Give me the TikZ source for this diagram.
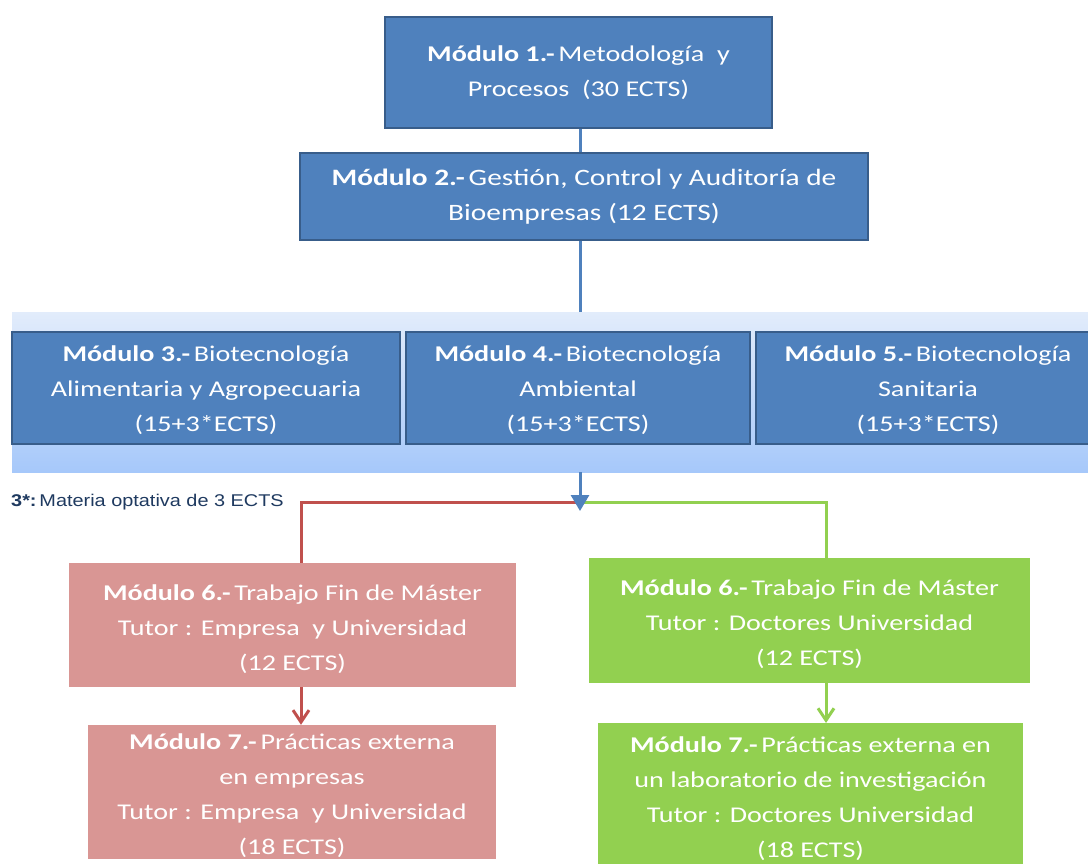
\documentclass[tikz,border=0pt]{standalone}
\usepackage{fontspec}
\setmainfont{Carlito}[FakeStretch=1.25]
\newfontfamily\notefont{Liberation Sans}[FakeStretch=1.17]
\usetikzlibrary{arrows.meta,calc}
\definecolor{bfill}{HTML}{4F81BD}
\definecolor{bdraw}{HTML}{385D8A}
\definecolor{rfill}{HTML}{D99694}
\definecolor{rline}{HTML}{C0504D}
\definecolor{gfill}{HTML}{92D050}
\definecolor{bandtop}{HTML}{E2ECFB}
\definecolor{bandbot}{HTML}{A6C8FA}
\definecolor{notecol}{HTML}{1F3A60}
\newcommand{\topstrut}[1]{\rule{0pt}{#1}}
\tikzset{
  modbox/.style={align=center, text=white, font=\fontsize{22.5}{35}\selectfont, inner sep=0pt},
  bluebox/.style={modbox, fill=bfill, draw=bdraw, line width=2.5pt},
  redbox/.style={modbox, fill=rfill},
  greenbox/.style={modbox, fill=gfill},
  blueline/.style={draw=bfill, line width=3pt},
  redconn/.style={draw=rline, line width=3pt},
  greenconn/.style={draw=gfill, line width=3pt},
}
\begin{document}
\begin{tikzpicture}[x=1pt,y=-1pt]
\useasboundingbox (0,0) rectangle (1088,864);
\clip (0,0) rectangle (1088,864);
\fill[white] (0,0) rectangle (1088,864);
% band
\node[inner sep=0pt, minimum width=1090pt, minimum height=160pt, top color=bandtop, bottom color=bandbot] (band) at (557,392) {};
% modules 1,2
\node[bluebox, minimum width=387pt, minimum height=111pt] (m1) at (578.5,72.5) {\textbf{Módulo 1.-}\,Metodología\ \ y\\Procesos\ \ (30 ECTS)};
\node[bluebox, minimum width=568pt, minimum height=87pt, font=\fontsize{23.5}{35}\selectfont] (m2) at (584,196.5) {\textbf{Módulo 2.-}\,Gestión, Control y Auditoría de\\Bioempresas (12 ECTS)};
% modules 3,4,5
\node[bluebox, minimum width=388pt, minimum height=112pt] (m3) at (206,388) {\topstrut{20pt}\textbf{Módulo 3.-}\,Biotecnología\\Alimentaria y Agropecuaria\\(15+3*ECTS)};
\node[bluebox, minimum width=344pt, minimum height=112pt] (m4) at (578,388) {\topstrut{20pt}\textbf{Módulo 4.-}\,Biotecnología\\Ambiental\\(15+3*ECTS)};
\node[bluebox, minimum width=344pt, minimum height=112pt] (m5) at (928,388) {\topstrut{20pt}\textbf{Módulo 5.-}\,Biotecnología\\Sanitaria\\(15+3*ECTS)};
% lower modules
\node[redbox, minimum width=447pt, minimum height=124pt] (r6) at (292.5,625) {\topstrut{24pt}\textbf{Módulo 6.-}\,Trabajo Fin de Máster\\Tutor : Empresa\ \ y Universidad\\(12 ECTS)};
\node[greenbox, minimum width=441pt, minimum height=125pt] (g6) at (809.5,620.5) {\topstrut{24pt}\textbf{Módulo 6.-}\,Trabajo Fin de Máster\\Tutor : Doctores Universidad\\(12 ECTS)};
\node[redbox, minimum width=408pt, minimum height=134pt] (r7) at (292,792) {\topstrut{24pt}\textbf{Módulo 7.-}\,Prácticas externa\\en empresas\\Tutor : Empresa\ \ y Universidad\\(18 ECTS)};
\node[greenbox, minimum width=425pt, minimum height=150pt, anchor=north] (g7) at (810.5,723) {\textbf{Módulo 7.-}\,Prácticas externa en\\un laboratorio de investigación\\Tutor : Doctores Universidad\\(18 ECTS)};
% note
\node[anchor=west, inner sep=0pt, text=notecol, font=\notefont\fontsize{17}{18}\selectfont] (note) at (11,502) {\textbf{3*:}\,Materia optativa de 3 ECTS};
% connectors
\draw[blueline] (m1.south -| 580,0) -- (m2.north -| 580,0);
\draw[blueline] (m2.south -| 580,0) -- (band.north -| 580,0);
\coordinate (split) at (580,502);
\coordinate (redx) at (301,0);
\coordinate (greenx) at (826,0);
\draw[redconn] (split) -- (split -| redx) -- (r6.north -| redx);
\draw[greenconn] (split) -- (split -| greenx) -- (g6.north -| greenx);
\draw[blueline, -{Triangle[width=18pt,length=16pt]}] (band.south -| split) -- ($(split)+(0,9)$);
\draw[redconn, -{Straight Barb[width=16pt,length=12pt,line width=3pt]}] (r6.south -| redx) -- (r7.north -| redx);
\draw[greenconn, -{Straight Barb[width=16pt,length=12pt,line width=3pt]}] (g6.south -| greenx) -- (g7.north -| greenx);
\end{tikzpicture}
\end{document}
